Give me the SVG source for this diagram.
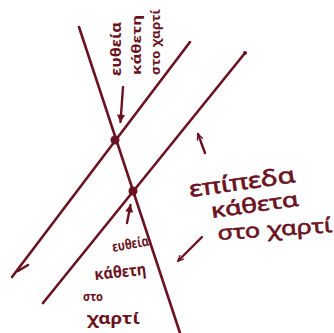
<svg xmlns="http://www.w3.org/2000/svg" width="334" height="333" viewBox="0 0 334 333">
<defs>
<style>
.ln{stroke:#6a1222;stroke-width:2.6;fill:none;stroke-linecap:round}
.ar{stroke:#6a1222;stroke-width:2.4;fill:none;stroke-linecap:round}
.t{font-family:"Noto Sans","DejaVu Sans",sans-serif;fill:#6a1222;font-weight:bold}
.tr{font-family:"Noto Sans","DejaVu Sans",sans-serif;fill:#6a1222;font-weight:normal;stroke:#6a1222;stroke-width:0.6}
</style>
<marker id="open" viewBox="0 0 10 10" refX="9" refY="5" markerWidth="7" markerHeight="7" orient="auto" markerUnits="userSpaceOnUse">
<path d="M1,1 L9,5 L1,9" fill="none" stroke="#6a1222" stroke-width="1.8" stroke-linecap="round"/>
</marker>
<marker id="solid" viewBox="0 0 10 10" refX="9" refY="5" markerWidth="10" markerHeight="8" orient="auto" markerUnits="userSpaceOnUse">
<path d="M0,0 L10,5 L0,10 z" fill="#6a1222"/>
</marker>
</defs>
<rect width="334" height="333" fill="#ffffff"/>
<g id="connectors">
<line class="ln" x1="79" y1="27" x2="180" y2="333"/>
<line class="ln" x1="190" y1="42" x2="12" y2="277"/>
<path class="ln" d="M18,271 L28,265"/>
<line class="ln" x1="245" y1="53" x2="43" y2="303"/>
<circle cx="245" cy="53" r="2" fill="#6a1222"/>
<line class="ar" x1="123" y1="87" x2="120.5" y2="122" marker-end="url(#solid)"/>
<line class="ar" x1="127" y1="223" x2="130.5" y2="205" marker-end="url(#solid)"/>
<line class="ar" x1="205" y1="153" x2="198" y2="134" marker-end="url(#open)"/>
<line class="ar" x1="202" y1="237" x2="178" y2="261" marker-end="url(#open)"/>
</g>
<g id="point-top"><circle cx="115" cy="140" r="4.5" fill="#6a1222"/></g>
<g id="point-bottom"><circle cx="133" cy="191" r="4.5" fill="#6a1222"/></g>
<g id="label-top">
<text class="t" font-size="15" transform="translate(121,76) rotate(-90)" textLength="54" lengthAdjust="spacingAndGlyphs">ευθεία</text>
<text class="t" font-size="13" transform="translate(141,75) rotate(-90)" textLength="60" lengthAdjust="spacingAndGlyphs">κάθετη</text>
<text class="t" font-size="12" transform="translate(160,75) rotate(-90)" textLength="66" lengthAdjust="spacingAndGlyphs">στο χαρτί</text>
</g>
<g id="label-right">
<text class="tr" font-size="22" transform="translate(190,197) rotate(-8)" textLength="107" lengthAdjust="spacingAndGlyphs">επίπεδα</text>
<text class="tr" font-size="20" transform="translate(212,218) rotate(-8)" textLength="88" lengthAdjust="spacingAndGlyphs">κάθετα</text>
<text class="tr" font-size="20" transform="translate(218,240) rotate(-4)" textLength="115" lengthAdjust="spacingAndGlyphs">στο χαρτί</text>
</g>
<g id="label-bottom">
<text class="t" font-size="14" transform="translate(113,252) rotate(-10)" textLength="37" lengthAdjust="spacingAndGlyphs">ευθεία</text>
<text class="t" font-size="16" transform="translate(95,280) rotate(-6)" textLength="52" lengthAdjust="spacingAndGlyphs">κάθετη</text>
<text class="t" font-size="13" x="83" y="301" textLength="20" lengthAdjust="spacingAndGlyphs">στο</text>
<text class="t" font-size="16" x="87" y="324" textLength="53" lengthAdjust="spacingAndGlyphs">χαρτί</text>
</g>
</svg>
